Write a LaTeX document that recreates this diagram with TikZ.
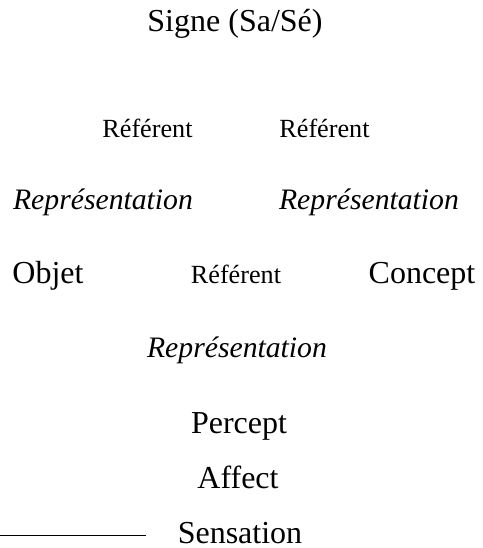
\documentclass[tikz,border=0pt]{standalone}
\usepackage{fontspec}
\setmainfont{Liberation Serif}
\begin{document}
\begin{tikzpicture}[x=1pt,y=-1pt,
  lbl/.style={anchor=base,inner sep=0pt,font=\fontsize{32}{38}\selectfont},
  sm/.style={anchor=base,inner sep=0pt,font=\fontsize{26.2}{31}\selectfont},
  it/.style={anchor=base,inner sep=0pt,font=\fontsize{29.7}{36}\selectfont\itshape}]
\useasboundingbox (0,0) rectangle (482,548);
\node[lbl] (signe) at (235,32) {Signe (Sa/Sé)};
\node[sm] (ref1) at (147.5,138) {Référent};
\node[sm] (ref2) at (324.5,138) {Référent};
\node[it] (rep1) at (103,209) {Représentation};
\node[it] (rep2) at (369,209) {Représentation};
\node[lbl] (objet) at (48,283) {Objet};
\node[sm] (ref3) at (236,283) {Référent};
\node[lbl] (concept) at (422,283) {Concept};
\node[it] (rep3) at (237,357) {Représentation};
\node[lbl] (percept) at (239,433) {Percept};
\node[lbl] (affect) at (238,488) {Affect};
\node[lbl] (sensation) at (240,543) {Sensation};
\coordinate (l0) at (0,535.5);
\coordinate (l1) at (146,535.5);
\draw[line width=1.7pt] (l0) -- (l1);
\end{tikzpicture}
\end{document}
